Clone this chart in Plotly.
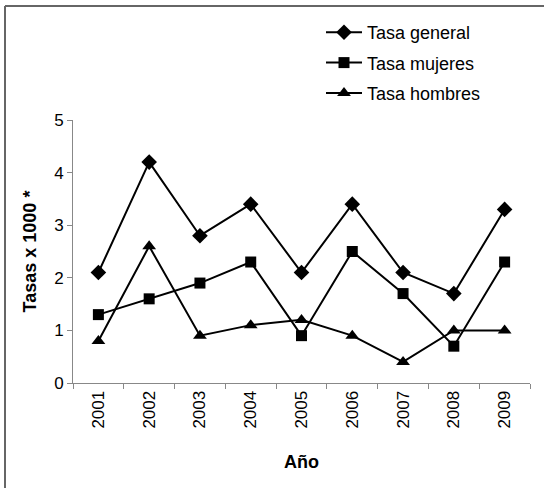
import plotly.graph_objects as go

years = ["2001", "2002", "2003", "2004", "2005", "2006", "2007", "2008", "2009"]
tasa_general = [2.1, 4.2, 2.8, 3.4, 2.1, 3.4, 2.1, 1.7, 3.3]
tasa_mujeres = [1.3, 1.6, 1.9, 2.3, 0.9, 2.5, 1.7, 0.7, 2.3]
tasa_hombres = [0.8, 2.6, 0.9, 1.1, 1.2, 0.9, 0.4, 1.0, 1.0]

series = [
    ("Tasa general", tasa_general, "diamond", 12),
    ("Tasa mujeres", tasa_mujeres, "square", 11),
    ("Tasa hombres", tasa_hombres, "triangle-up", 12),
]

fig = go.Figure()
for i, (name, vals, sym, sz) in enumerate(series):
    fig.add_trace(go.Scatter(
        x=years, y=vals, name=name, mode="lines+markers",
        line=dict(color="black", width=2),
        marker=dict(symbol=sym, size=sz, color="black"),
        legendgroup=f"g{i}",
    ))

W, H = 544, 488
L, R, T, B = 73, 14, 120, 105
pw, ph = W - L - R, H - T - B

def px_x(p):
    return (p - L) / pw

def px_y(p):
    return (H - B - p) / ph

fig.update_layout(
    width=W, height=H,
    margin=dict(l=L, r=R, t=T, b=B),
    paper_bgcolor="white", plot_bgcolor="white",
    font=dict(family="Liberation Sans, Arial, sans-serif", size=17, color="black"),
    showlegend=True,
    legend=dict(
        x=px_x(321), y=px_y(14), xanchor="left", yanchor="top",
        font=dict(size=18), traceorder="grouped", tracegroupgap=4,
        itemwidth=36, bgcolor="rgba(0,0,0,0)",
    ),
    xaxis=dict(
        type="category", range=[-0.5, 8.5], tickson="boundaries",
        ticks="outside", ticklen=5, tickcolor="#888", showline=True,
        linecolor="#888", linewidth=1, showgrid=False, tickangle=-90,
        tickfont=dict(size=17),
        title=dict(text="<b>Año</b>", font=dict(size=18), standoff=27),
        zeroline=False,
    ),
    yaxis=dict(
        range=[0, 5], dtick=1, ticks="outside", ticklen=5, tickcolor="#888",
        showline=True, linecolor="#888", linewidth=1, showgrid=False,
        zeroline=False, tickfont=dict(size=17),
        title=dict(text="<b>Tasas x 1000 *</b>", font=dict(size=18), standoff=12),
    ),
    shapes=[
        dict(type="line", xref="paper", yref="paper",
             x0=px_x(5), x1=px_x(W + 5), y0=px_y(6), y1=px_y(6),
             line=dict(color="#666", width=2)),
        dict(type="line", xref="paper", yref="paper",
             x0=px_x(5), x1=px_x(5), y0=px_y(6), y1=px_y(H + 5),
             line=dict(color="#666", width=2)),
    ],
)

fig.write_html("out.html", config={"displayModeBar": False},
               post_script="document.body.style.margin='0';")
